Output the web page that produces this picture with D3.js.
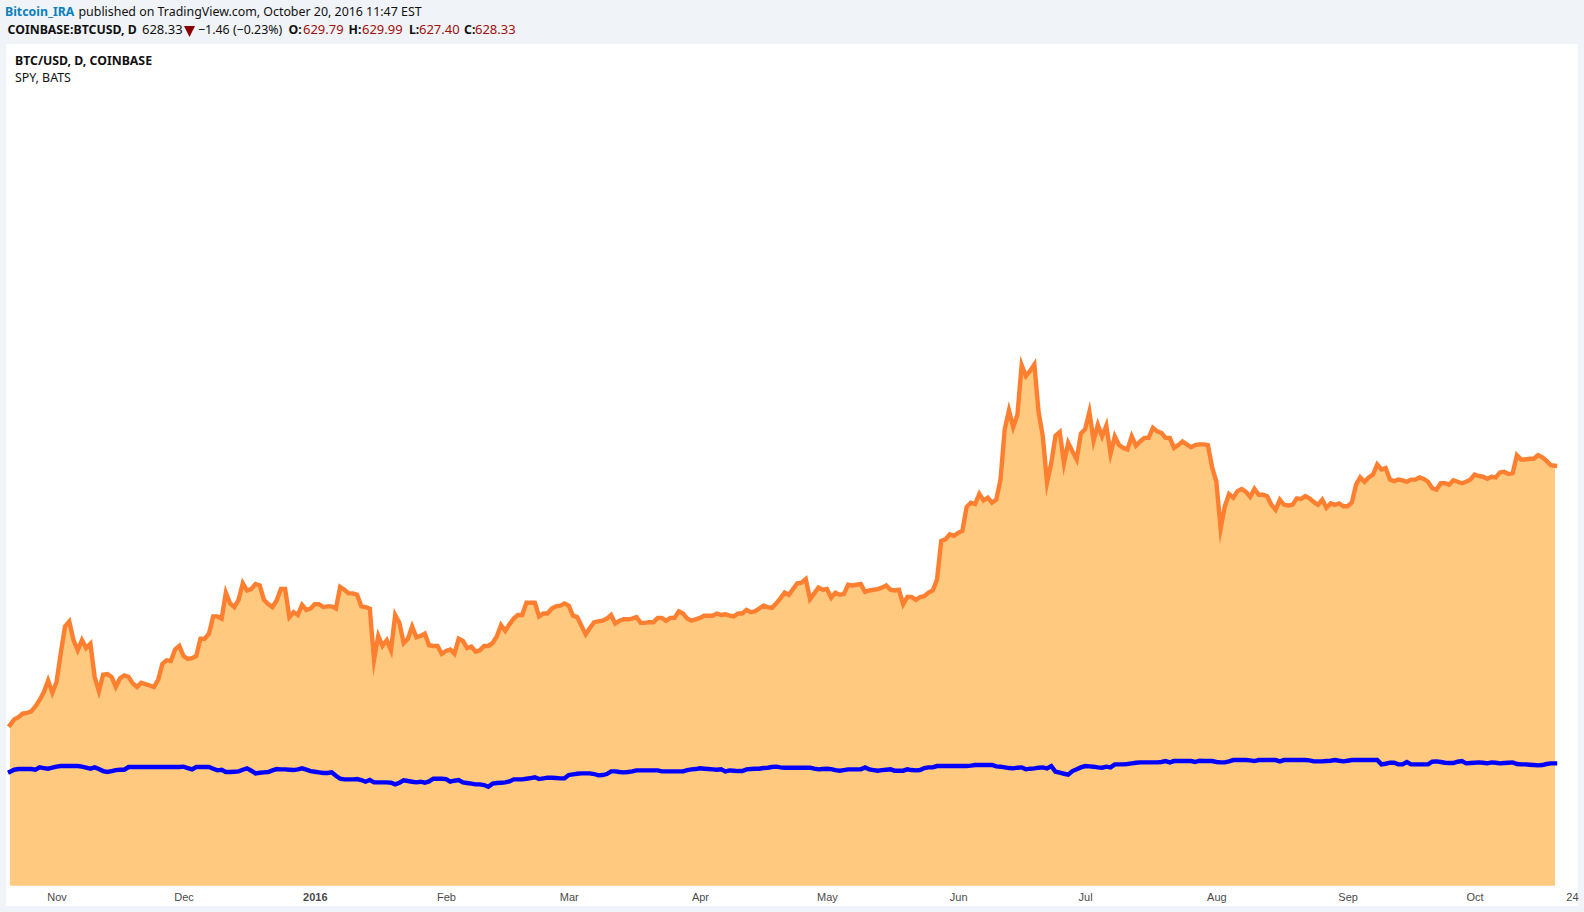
<!DOCTYPE html>
<html>
<head>
<meta charset="utf-8">
<title>BTC/USD vs SPY</title>
<script src="https://d3js.org/d3.v7.min.js"></script>
<style>
  html, body { margin: 0; padding: 0; background: #f0f3f7; }
  svg { display: block; }
  .head { font-family: "Noto Sans", sans-serif; font-size: 12.4px; fill: #111; }
  .bold { font-weight: 700; font-size: 12.3px; }
  .num { font-size: 13px; }
  .red { fill: #a30f0f; font-size: 13px; }
  .axis text { font-family: "Liberation Sans", Arial, sans-serif; font-size: 11px; fill: #4a4a4a; }
</style>
</head>
<body>
<div id="chart"></div>
<script>
// daily closes, 2015-10-21 to 2016-10-20
var firstDay = "2015-10-21";
var lastDay = "2016-10-20";

var btcClose = [
  268,276,279,284,285,287,294,303,314,330,313,328,368,405,412,386,372,386,375,381,
  335,315,338,339,335,321,333,337,335,326,321,327,325,323,321,331,353,358,357,373,
  378,364,360,361,364,388,388,395,419,419,416,452,437,432,442,465,455,457,464,462,
  442,436,432,441,457,457,418,425,421,435,428,430,436,436,432,433,433,430,460,456,
  451,451,449,433,432,430,359,392,378,386,372,421,410,382,388,405,390,392,395,379,
  378,378,367,371,373,367,388,385,375,377,370,372,378,378,382,391,407,399,408,416,
  421,421,438,438,438,419,423,423,430,433,434,437,434,420,418,406,394,403,411,412,
  413,416,421,409,413,415,415,416,418,410,410,411,411,417,417,413,417,417,426,423,
  416,413,415,417,420,420,420,423,421,422,420,419,423,423,428,425,426,430,434,432,
  431,437,444,452,449,457,465,466,471,443,451,459,456,457,445,452,449,450,463,462,
  463,464,453,455,456,457,459,462,456,455,456,436,446,446,442,446,447,452,455,470,
  524,526,533,531,535,538,571,577,575,589,580,584,577,581,609,679,705,682,699,768,
  753,760,769,703,669,605,632,670,675,632,660,648,637,673,679,703,663,685,669,684,
  645,669,657,653,651,669,656,662,667,667,681,676,674,667,667,653,657,662,658,654,
  657,658,658,657,626,606,541,572,589,584,593,596,592,585,596,588,588,586,574,567,
  581,574,573,574,583,582,586,583,578,574,581,570,576,574,576,572,572,577,602,612,
  606,612,616,630,623,625,609,607,609,608,606,609,609,612,610,606,597,595,604,604,
  602,608,606,604,606,609,616,614,613,610,613,612,619,620,617,618,643,637,637,638,
  638,643,640,635,629,628.33
];

var spyClose = [
  203.3,206.1,207,207,207,207,206.1,209.3,208.4,207.5,208.9,210.3,211.2,211.2,211.2,211.2,211.2,210.3,208.9,207.5,
  209.3,207,204.2,202.9,204.2,205.6,206.1,206.1,209.8,209.8,209.8,209.8,209.8,209.8,209.8,209.8,209.8,209.8,209.8,209.8,
  209.8,210.3,208.4,206.6,209.8,209.8,209.8,209.8,207.5,205.2,206.1,202.9,202.9,203.3,203.8,206.1,208,204.7,201,201.9,
  202.4,202.9,205.2,207,206.6,206.6,206.1,205.6,206.6,208,206.1,204.2,203.3,202.4,201.5,201.5,202.4,197.8,193.6,192.7,
  192.7,192.7,193.1,191.8,189.4,191.8,188.5,188.5,188.5,188.5,188,185.7,188,191.3,190.4,189.4,188.5,189.4,188,189.9,
  193.6,193.6,193.6,193.1,189.4,190.8,191.8,188.5,187.6,186.7,185.7,185.7,184.8,182.5,186.7,187.6,188,188.5,189.9,192.7,
  192.7,192.7,193.6,194.5,195.5,193.1,194.1,195,195,194.5,194.1,194.1,198.7,199.6,200.5,201,201,201,200.1,198.2,
  198.7,200.1,203.8,203.8,202.9,202.4,202.9,203.8,205.2,205.2,205.2,205.2,205.2,205.2,203.8,203.8,203.8,203.8,203.8,203.8,
  205.6,206.6,207,208,207.5,207,206.6,206.1,206.6,203.8,205.2,204.7,204.2,204.2,206.6,207,207.5,207.5,208.4,208.9,
  209.8,210.3,209.3,208.9,208.9,208.9,208.9,208.9,208.9,208.9,207.5,206.6,207,207.5,207,205.6,204.7,205.6,206.6,206.6,
  206.6,206.6,209.3,206.6,205.6,204.7,205.6,206.1,206.6,204.7,204.7,204.7,206.6,205.6,205.2,205.6,208.4,209.3,209.3,211.2,
  211.2,211.2,211.2,211.2,211.2,211.2,211.2,211.7,212.6,212.6,212.6,212.6,212.6,210.7,210.3,209.3,208.4,208,208.9,209.3,
  206.6,207.5,208,208.9,209.3,208,211.2,203.3,201.9,200.5,199.2,204.2,206.6,209.3,211.2,210.7,210.3,209.3,208.9,210.3,
  209.3,213.5,213.5,213.5,214,214.9,215.8,216.3,216.3,216.3,216.3,216.3,216.8,218.1,216.3,218.1,218.1,218.1,218.1,218.1,
  216.8,218.6,218.1,218.1,218.1,216.8,216.3,216.3,217.7,219.5,219.5,219.5,219.5,219.1,218.1,219.5,219.5,219.5,219.5,219.5,
  217.7,219.5,219.5,219.5,219.5,219.5,219.5,219.1,217.7,217.7,217.7,218.1,218.6,219.5,218.6,217.7,218.6,219.5,219.5,219.5,
  219.5,219.5,219.5,219.5,213.5,214.4,215.8,215.8,213.5,213.5,216.8,213.5,213.5,213.5,213.5,213.5,217.2,217.7,216.8,215.8,
  215.4,215.4,217.2,218.1,214.9,215.4,215.8,216.3,215.8,214.9,216.3,215.8,214.9,215.4,215.8,216.3,214,213.5,213.5,213,
  212.6,212.1,212.6,214,214.9,214.9
];

var tickDates = ["2015-11-01","2015-12-01","2016-01-01","2016-02-01","2016-03-01","2016-04-01","2016-05-01","2016-06-01","2016-07-01","2016-08-01","2016-09-01","2016-10-01","2016-10-24"];
var tickLabels = ["Nov","Dec","2016","Feb","Mar","Apr","May","Jun","Jul","Aug","Sep","Oct","24"];

var parseDay = d3.utcParse("%Y-%m-%d");
var days = d3.utcDay.range(parseDay(firstDay), d3.utcDay.offset(parseDay(lastDay), 1));

var width = 1584, height = 912;
var plotLeft = 10, plotRight = 1555, plotTop = 43, plotBottom = 885.7;

var svg = d3.select("#chart").append("svg")
    .attr("width", width)
    .attr("height", height);

svg.append("rect")
    .attr("x", 6).attr("y", 44)
    .attr("width", 1572).attr("height", 862)
    .attr("fill", "#fff");

var x = d3.scaleUtc()
    .domain([parseDay(firstDay), parseDay(lastDay)])
    .range([plotLeft, plotRight]);

var y = d3.scaleLinear()
    .domain([45, 1215.4])
    .range([plotBottom, plotTop]);

var area = d3.area()
    .x(function(d, i){return x(days[i]);})
    .y0(plotBottom)
    .y1(function(d){return y(d);});

var line = d3.line()
    .x(function(d, i){return x(days[i]);})
    .y(function(d){return y(d);});

svg.append("path")
    .attr("d", area(btcClose))
    .attr("fill", "#ffca7f");

svg.append("path")
    .attr("d", line(btcClose))
    .attr("fill", "none")
    .attr("stroke", "#ff7f30")
    .attr("stroke-width", 4.4)
    .attr("stroke-linecap", "square")
    .attr("stroke-miterlimit", 20);

svg.append("path")
    .attr("d", line(spyClose))
    .attr("fill", "none")
    .attr("stroke", "#0000ff")
    .attr("stroke-width", 4.4)
    .attr("stroke-linecap", "square")
    .attr("stroke-miterlimit", 20);

var axis = d3.axisBottom(x)
    .tickValues(tickDates.map(parseDay))
    .tickSize(0)
    .tickPadding(0)
    .tickFormat(function(d, i){return tickLabels[i];});

var gAxis = svg.append("g")
    .attr("class", "axis")
    .attr("transform", "translate(0," + 894 + ")")
    .call(axis);
gAxis.select(".domain").remove();
gAxis.selectAll("text")
    .attr("dy", "0.32em")
    .attr("y", 3)
    .style("font-weight", function(d, i){return tickLabels[i] == "2016" ? "700" : "400";});

// header lines
function head(px, py, str, cls){
    return svg.append("text")
        .attr("class", "head " + (cls || ""))
        .attr("x", px).attr("y", py)
        .text(str);
}

head(5, 16, "Bitcoin_IRA", "bold").style("fill", "#0a80bd");
head(78.5, 16, "published on TradingView.com, October 20, 2016 11:47 EST");

head(7.5, 34, "COINBASE:BTCUSD, D", "bold");
head(142, 34, "628.33", "num");
svg.append("path")
    .attr("d", d3.line()([[184, 26], [195, 26], [189.5, 37]]) + "Z")
    .attr("fill", "#8b0000");
head(198, 34, "\u22121.46 (\u22120.23%)");
head(288.5, 34, "O:", "bold");
head(303, 34, "629.79", "red");
head(348.5, 34, "H:", "bold");
head(362, 34, "629.99", "red");
head(409, 34, "L:", "bold");
head(419, 34, "627.40", "red");
head(464, 34, "C:", "bold");
head(475, 34, "628.33", "red");

head(15, 65, "BTC/USD, D, COINBASE", "bold");
head(15, 82, "SPY, BATS");
</script>
</body>
</html>
